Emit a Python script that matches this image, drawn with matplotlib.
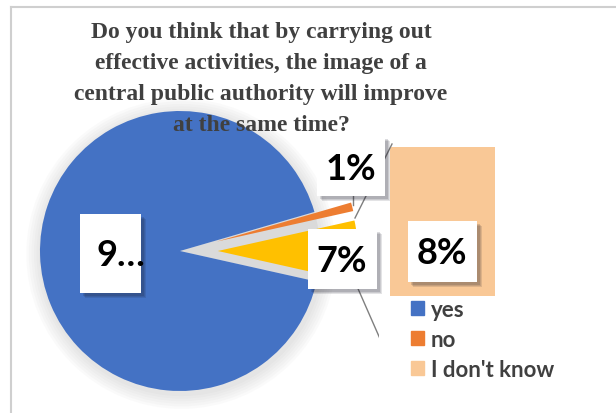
import matplotlib
matplotlib.use("Agg")
import matplotlib.pyplot as plt
from matplotlib.patches import Rectangle, Wedge, Circle
from matplotlib.lines import Line2D

# survey answers
pie_values = [92, 1, 7]
pie_colors = ["#4472C4", "#ED7D31", "#FFC000"]
pie_explode = [0, 0.27, 0.27]
legend_labels = ["yes", "no", "I don't know"]
legend_colors = ["#4472C4", "#ED7D31", "#F9C896"]
dont_know = 8

title = ("Do you think that by carrying out\neffective activities, the image of a\n"
         "central public authority will improve\nat the same time?")

W, H = 616, 414
fig = plt.figure(figsize=(W / 100, H / 100), dpi=100)


def fx(x):
    return x / W


def fy(y):
    return 1 - y / H


# chart area frame (only top/left edges visible)
fig.add_artist(Line2D([fx(11), fx(11)], [fy(8), 0], color="#cfcfcf", lw=1.5))
fig.add_artist(Line2D([fx(11), 1], [fy(8), fy(8)], color="#cfcfcf", lw=1.5))

# pie
ax = fig.add_axes([fx(40), fy(392), 280 / W, 280 / H])
ax.set_xlim(-1, 1)
ax.set_ylim(-1, 1)
ax.axis("off")

# soft shadow round the pie
for k in range(6):
    ax.add_patch(Circle((0.01, -0.02), 1.0 + 0.018 * (k + 1), color="#888888",
                        alpha=0.035, lw=0, zorder=0, clip_on=False))

start = -360 * pie_values[2] / 100 / 2
gap = 360 * (pie_values[1] + pie_values[2]) / 100
ax.add_patch(Wedge((0, 0), 1.0, start, start + gap, color="#dadada", lw=0,
                   zorder=0.5, clip_on=False))

wedges, _ = ax.pie(pie_values, colors=pie_colors, explode=pie_explode,
                   startangle=start, counterclock=False, radius=1,
                   wedgeprops=dict(linewidth=0))
for w in wedges:
    w.set_clip_on(False)
    w.set_zorder(1)
ax.set_xlim(-1, 1)
ax.set_ylim(-1, 1)
ax.set_aspect("auto")

# "I don't know" block
fig.add_artist(Rectangle((fx(390), fy(297)), 105 / W, 149 / H,
                         color=legend_colors[2], lw=0, zorder=1))

# leader lines
for (x0, y0), (x1, y1) in [((355, 219), (392, 145)), ((353, 196), (353, 206)),
                           ((352, 276), (381, 342))]:
    fig.add_artist(Line2D([fx(x0), fx(x1)], [fy(y0), fy(y1)], color="#7f7f7f",
                          lw=1, zorder=2))


def label_box(x0, y0, x1, y1, text, tx, ty):
    for k, a in enumerate([0.12, 0.12, 0.15]):
        off = 5 - k
        fig.add_artist(Rectangle((fx(x0 + off), fy(y1 + off)), (x1 - x0) / W,
                                 (y1 - y0) / H, color="#1a1a2a", alpha=a, lw=0,
                                 zorder=3))
    fig.add_artist(Rectangle((fx(x0), fy(y1)), (x1 - x0) / W, (y1 - y0) / H,
                             color="white", lw=0, zorder=4))
    fig.text(fx(tx), fy(ty), text, ha="center", va="center", fontsize=26,
             fontweight="bold", family="Lato", color="black", zorder=5)


label_box(80, 215, 141, 294, str(pie_values[0])[0] + "…", 121, 256)
label_box(317, 137, 385, 197, f"{pie_values[1]}%", 351, 169)
label_box(308, 230, 377, 290, f"{pie_values[2]}%", 342, 261)
label_box(408, 222, 477, 283, f"{dont_know}%", 442, 253)

# legend area
fig.add_artist(Rectangle((fx(379), fy(384)), (W - 379) / W, 87 / H,
                         color="white", lw=0, zorder=6))
handles = [Rectangle((0, 0), 1, 1, color=c) for c in legend_colors]
leg = fig.legend(handles, legend_labels, loc="upper left",
                 bbox_to_anchor=(fx(411), fy(300)), frameon=False,
                 prop=dict(family="Lato", weight="bold", size=16),
                 handlelength=0.6, handleheight=0.6, handletextpad=0.3,
                 labelspacing=0.4, borderpad=0, borderaxespad=0)
leg.set_zorder(7)
for t in leg.get_texts():
    t.set_color("#404040")

fig.text(fx(261), fy(79), title, ha="center", va="center", fontsize=17,
         fontweight="bold", family="Liberation Serif", color="#404040",
         linespacing=1.62, zorder=8)

fig.savefig("out.png", dpi=100)
